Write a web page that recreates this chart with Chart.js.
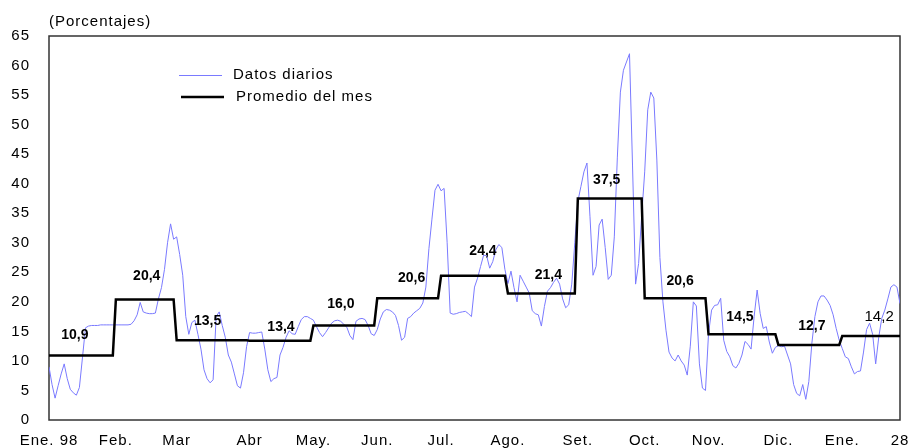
<!DOCTYPE html>
<html><head><meta charset="utf-8">
<script src="https://cdn.jsdelivr.net/npm/chart.js@4.4.1/dist/chart.umd.min.js"></script>
<style>html,body{margin:0;padding:0;background:#fff}</style>
</head><body>
<canvas id="c" width="910" height="448"></canvas>
<script>
// ---- data ----
const monthLabels = ["Ene. 98","Feb.","Mar","Abr","May.","Jun.","Jul.","Ago.","Set.","Oct.","Nov.","Dic.","Ene.","28"];
const monthStart = [0,22,42,66,87,108,129,151,174,196,217,240,261];
const lastDay = 280;
const monthAvg = [10.9,20.4,13.5,13.4,16.0,20.6,24.4,21.4,37.5,20.6,14.5,12.7,14.2];
const daily = [
 9.0,6.0,3.7,5.8,7.8,9.5,7.0,5.2,4.6,4.2,5.5,10.5,15.6,15.9,16.0,16.0,16.0,16.1,16.1,16.1,16.1,16.1,
 16.1,16.1,16.1,16.1,16.1,16.2,16.8,17.8,19.9,18.3,18.1,18.0,18.0,18.1,20.5,22.4,25.5,30.0,33.2,30.6,
 31.0,28.0,24.5,17.5,14.5,16.5,16.9,14.5,12.0,8.5,7.0,6.3,6.8,17.5,18.3,16.0,14.0,11.0,9.8,7.8,5.8,5.4,8.0,12.4,
 14.8,14.7,14.7,14.8,14.9,12.0,8.5,6.5,7.0,7.2,11.0,12.3,14.0,15.1,14.6,14.5,15.8,17.0,17.5,17.5,17.2,
 16.9,15.8,14.8,14.1,14.8,15.6,16.4,16.8,16.9,16.7,16.2,15.7,14.3,13.6,16.7,17.1,17.2,17.0,16.0,14.6,14.3,
 15.3,17.1,18.3,18.7,18.6,18.3,17.7,16.0,13.5,14.0,17.2,17.5,18.1,18.5,18.9,19.8,22.5,29.0,34.0,38.9,39.9,
 38.8,39.2,30.0,18.1,17.9,18.0,18.2,18.3,18.4,18.0,17.5,22.5,24.0,26.0,27.9,27.8,25.7,26.8,28.8,29.7,29.2,25.5,
 23.1,25.2,22.4,20.0,24.5,23.5,22.5,21.5,18.5,18.0,17.8,15.9,19.2,21.8,22.4,23.3,24.0,23.0,20.5,19.0,19.5,23.0,30.0,
 37.0,39.5,42.0,43.5,34.4,24.5,26.0,33.0,34.0,29.2,23.8,24.5,31.0,44.5,55.5,59.2,60.6,62.0,43.0,23.0,26.5,34.5,
 42.0,52.5,55.5,54.5,44.0,27.5,20.0,15.2,11.5,10.5,10.0,11.0,10.0,9.3,7.6,12.5,20.0,19.3,9.5,5.4,5.0,
 14.6,18.6,19.4,19.5,20.6,13.5,11.6,10.7,9.2,8.8,9.6,11.0,13.3,12.8,12.0,17.5,22.0,18.0,15.5,15.8,13.2,11.3,12.3,
 12.6,12.4,12.5,11.0,9.5,6.0,4.5,4.1,6.0,3.5,6.5,13.0,17.5,20.0,21.0,21.0,20.3,19.4,17.8,15.5,13.5,
 12.1,10.7,10.4,9.0,7.8,8.2,8.3,11.5,15.3,16.4,14.5,9.5,14.0,17.2,18.6,20.5,22.5,22.9,22.5,19.7
];
const seriesNames = ["Datos diarios","Promedio del mes"];
const yAxisTitle = "(Porcentajes)";

// ---- label placement style (pixel nudges, not data) ----
const labelDx = [-6,2,-4,1,-3,4,10,7,-3,5,-2,3,8];
const labelDy = [-1,-4,0,5,-2,-1,-6,1,1,2,2,0,0];

// ---- derived ----
function monthOf(i){ let m=0; for(let k=0;k<monthStart.length;k++){ if(i>=monthStart[k]) m=k; } return m; }
const dailyPts = daily.map((v,i)=>({x:i,y:v}));
const stepPts = daily.map((v,i)=>({x:i,y:monthAvg[monthOf(i)]}));
const tickVals = monthStart.concat([lastDay]);

const FONT = "'Liberation Sans', Arial, sans-serif";
const BLUE = '#7a7aff';

const deco = {
  id:'deco',
  beforeLayout(chart){ chart.ctx.letterSpacing='1px'; },
  beforeDraw(chart){ chart.ctx.letterSpacing='1px'; },
  beforeDatasetsDraw(chart){
    const {ctx, chartArea:a} = chart;
    ctx.save();
    ctx.strokeStyle='#333'; ctx.lineWidth=1.5;
    ctx.strokeRect(a.left, a.top, a.right-a.left, a.bottom-a.top);
    ctx.restore();
  },
  afterDatasetsDraw(chart){
    const {ctx, chartArea:a, scales:{x,y}} = chart;
    ctx.save();
    ctx.fillStyle='#000';
    ctx.textBaseline='middle';
    // month average labels
    ctx.letterSpacing='0px';
    monthAvg.forEach((v,m)=>{
      const s = monthStart[m], e = (m+1<monthStart.length? monthStart[m+1]-1 : lastDay);
      const cx = (x.getPixelForValue(s)+x.getPixelForValue(e))/2 + labelDx[m];
      const cy = y.getPixelForValue(v)-19 + labelDy[m];
      const last = m===monthAvg.length-1;
      ctx.font = (last? '15px ' : 'bold 14px ')+FONT;
      ctx.textAlign='center';
      ctx.fillText(v.toFixed(1).replace('.',','), cx, cy);
    });
    // title
    ctx.letterSpacing='1px';
    ctx.font='15px '+FONT; ctx.textAlign='left';
    ctx.fillText(yAxisTitle, a.left, 22);
    // legend
    ctx.strokeStyle=BLUE; ctx.lineWidth=1;
    ctx.beginPath(); ctx.moveTo(179,75.5); ctx.lineTo(222,75.5); ctx.stroke();
    ctx.strokeStyle='#000'; ctx.lineWidth=2.5;
    ctx.beginPath(); ctx.moveTo(181,97); ctx.lineTo(224,97); ctx.stroke();
    ctx.fillText(seriesNames[0], 233, 75);
    ctx.fillText(seriesNames[1], 236, 97);
    ctx.restore();
  }
};

new Chart(document.getElementById('c'), {
  type:'line',
  data:{ datasets:[
    {label:seriesNames[0], data:dailyPts, borderColor:BLUE, borderWidth:1, pointRadius:0, tension:0, order:2},
    {label:seriesNames[1], data:stepPts, borderColor:'#000', borderWidth:2.5, pointRadius:0, tension:0, order:1, borderJoinStyle:'miter'}
  ]},
  options:{
    responsive:false, animation:false, events:[],
    layout:{padding:{top:36,right:10,left:0,bottom:0}},
    plugins:{legend:{display:false}, tooltip:{enabled:false}},
    scales:{
      x:{type:'linear', min:0, max:lastDay,
        grid:{display:false, drawTicks:false}, border:{display:false},
        afterBuildTicks(s){ s.ticks = tickVals.map(v=>({value:v})); },
        afterFit(s){ s.height = 28; s.paddingLeft = 0; s.paddingRight = 0; },
        ticks:{autoSkip:false, maxRotation:0, padding:12, color:'#000', font:{family:FONT,size:15},
          callback(v){ const k = tickVals.indexOf(v); return k>=0? monthLabels[k] : ''; }}
      },
      y:{min:0, max:65,
        grid:{display:false, drawTicks:false}, border:{display:false},
        afterFit(s){ s.width = 49; s.paddingTop = 0; s.paddingBottom = 0; },
        ticks:{stepSize:5, padding:19, color:'#000', font:{family:FONT,size:15}}
      }
    }
  },
  plugins:[deco]
});
</script>
</body></html>
